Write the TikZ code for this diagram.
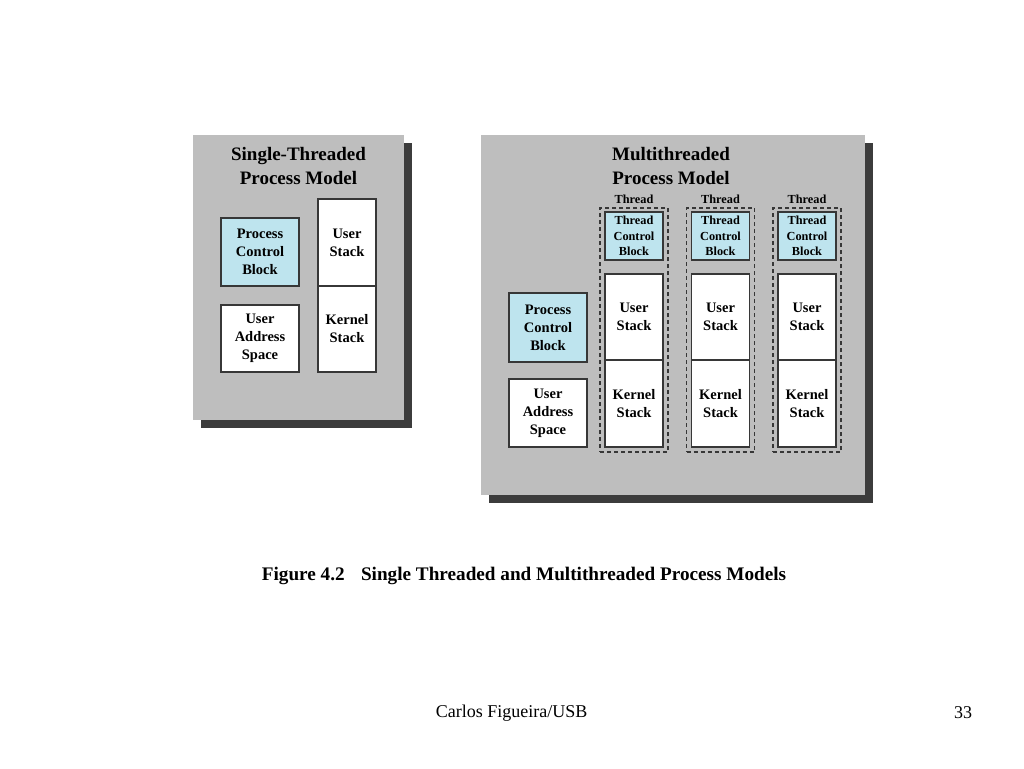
\documentclass[tikz,border=0pt]{standalone}
\usepackage{fontspec}
\setmainfont{Liberation Serif}
\definecolor{panelgray}{RGB}{190,190,190}
\definecolor{shadowgray}{RGB}{60,60,60}
\definecolor{pcbblue}{RGB}{190,228,238}
\definecolor{boxline}{RGB}{55,55,55}
\begin{document}
\begin{tikzpicture}[x=1pt,y=-1pt,
  panel/.style={fill=panelgray, draw=none, anchor=north west, inner sep=0},
  shadowbox/.style={fill=shadowgray, draw=none, anchor=north west, inner sep=0},
  box/.style={draw=boxline, line width=1.1pt, fill=white, align=center, inner sep=0,
    font=\bfseries\fontsize{14.5}{18}\selectfont,
    execute at begin node={\rule{0pt}{15pt}}},
  bluebox/.style={box, fill=pcbblue},
  tcb/.style={box, fill=pcbblue, font=\bfseries\fontsize{12.3}{15.5}\selectfont,
    execute at begin node={\rule{0pt}{12.5pt}}},
  thr/.style={draw=boxline, line width=1.1pt, dash pattern=on 4pt off 3pt, fill=none, inner sep=0},
  title/.style={font=\bfseries\fontsize{19}{24}\selectfont, align=center, inner sep=0},
  thrlbl/.style={font=\bfseries\fontsize{12.3}{14}\selectfont, inner sep=0},
]
\useasboundingbox[fill=white] (0,0) rectangle (1024,768);

% ---------- left panel ----------
\node[shadowbox, minimum width=211pt, minimum height=285pt] (lsh) at (201,143) {};
\node[panel, minimum width=211pt, minimum height=285pt] (lp) at (193,135) {};
\node[title] (lt) at (298.5,166) {Single-Threaded\\Process Model};

\node[bluebox, minimum width=78pt, minimum height=68pt] (lpcb) at (260,252) {Process\\Control\\Block};
\node[box, minimum width=78pt, minimum height=67pt] (luas) at (260,338.5) {User\\Address\\Space};
\node[box, minimum width=58pt, minimum height=87pt] (lus) at (347,242.5) {User\\Stack};
\node[box, minimum width=58pt, minimum height=86pt] (lks) at (347,329) {Kernel\\Stack};

% ---------- right panel ----------
\node[shadowbox, minimum width=384pt, minimum height=360pt] (rsh) at (489,143) {};
\node[panel, minimum width=384pt, minimum height=360pt] (rp) at (481,135) {};
\node[title] (rt) at (671,166) {Multithreaded\\Process Model};

\node[bluebox, minimum width=78pt, minimum height=69pt] (rpcb) at (548,327.5) {Process\\Control\\Block};
\node[box, minimum width=78pt, minimum height=68pt] (ruas) at (548,413) {User\\Address\\Space};

\foreach \i/\cx in {1/634, 2/720.5, 3/807} {
  \node[thr, minimum width=68pt, minimum height=244pt] (t\i) at (\cx,330) {};
  \node[thrlbl] (tl\i) at (\cx,199) {Thread};
  \node[tcb, minimum width=58pt, minimum height=48pt] (tcb\i) at (\cx,236) {Thread\\Control\\Block};
  \node[box, minimum width=58pt, minimum height=86pt] (us\i) at (\cx,317) {User\\Stack};
  \node[box, minimum width=58pt, minimum height=87pt] (ks\i) at (\cx,403.5) {Kernel\\Stack};
}

% ---------- caption and footer ----------
\node[font=\bfseries\fontsize{19.2}{22}\selectfont, inner sep=0] (cap) at (524,576)
  {Figure 4.2\hspace{0.85em}Single Threaded and Multithreaded Process Models};
\node[font=\fontsize{18}{20}\selectfont, inner sep=0] (foot) at (511.5,713) {Carlos Figueira/USB};
\node[font=\fontsize{18}{20}\selectfont, inner sep=0] (pg) at (963,713) {33};
\end{tikzpicture}
\end{document}
